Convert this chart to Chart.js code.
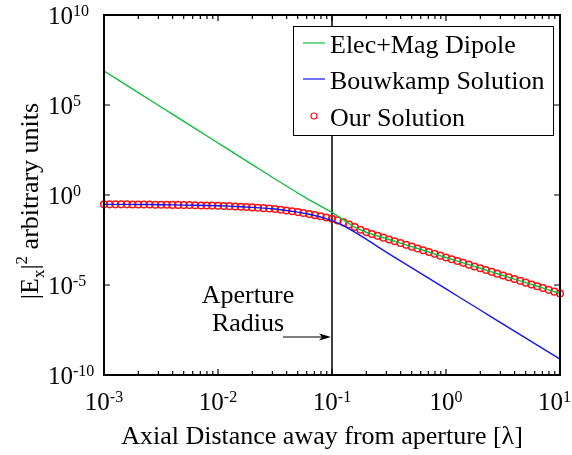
<!DOCTYPE html>
<html>
<head>
<meta charset="utf-8">
<script src="https://cdn.jsdelivr.net/npm/chart.js@4/dist/chart.umd.min.js"></script>
<style>
  html, body { margin: 0; padding: 0; background: #fff; }
  #wrap { width: 572px; height: 455px; }
</style>
</head>
<body>
<div id="wrap"><canvas id="c" width="572" height="455"></canvas></div>
<script>
// Axial distance samples (log10 of distance in wavelengths) for the two analytic curves
const lineDistanceExp = [
  -3.0, -2.9, -2.8, -2.7, -2.6, -2.5, -2.4, -2.3, -2.2, -2.1,
  -2.0, -1.9, -1.8, -1.7, -1.6, -1.5, -1.4, -1.3, -1.2, -1.1,
  -1.0, -0.9, -0.8, -0.7, -0.6, -0.5, -0.4, -0.3, -0.2, -0.1,
   0.0,  0.1,  0.2,  0.3,  0.4,  0.5,  0.6,  0.7,  0.8,  0.9, 1.0
];

// log10 |Ex|^2 for the electric + magnetic dipole model
const dipoleLog = [
   6.89,  6.49,  6.09,  5.69,  5.29,  4.89,  4.49,  4.09,  3.69,  3.29,
   2.89,  2.49,  2.09,  1.69,  1.29,  0.89,  0.50,  0.11, -0.27, -0.62,
  -0.96, -1.38, -1.80, -2.07, -2.27, -2.47, -2.67, -2.87, -3.07, -3.27,
  -3.47, -3.67, -3.87, -4.07, -4.27, -4.47, -4.67, -4.87, -5.07, -5.27, -5.47
];

// log10 |Ex|^2 for the Bouwkamp solution
const bouwkampLog = [
  -0.52, -0.52, -0.52, -0.53, -0.53, -0.54, -0.55, -0.56, -0.57, -0.58,
  -0.60, -0.62, -0.65, -0.69, -0.73, -0.78, -0.86, -0.95, -1.07, -1.22,
  -1.42, -1.70, -2.06, -2.45, -2.87, -3.27, -3.66, -4.05, -4.44, -4.83,
  -5.22, -5.61, -6.00, -6.39, -6.78, -7.17, -7.56, -7.95, -8.34, -8.73, -9.12
];

// Axial distance samples (log10) for our computed solution
const ourDistanceExp = [
  -3.00, -2.95, -2.90, -2.85, -2.80, -2.75, -2.70, -2.65, -2.60, -2.55,
  -2.50, -2.45, -2.40, -2.35, -2.30, -2.25, -2.20, -2.15, -2.10, -2.05,
  -2.00, -1.95, -1.90, -1.85, -1.80, -1.75, -1.70, -1.65, -1.60, -1.55,
  -1.50, -1.45, -1.40, -1.35, -1.30, -1.25, -1.20, -1.15, -1.10, -1.05,
  -1.00, -0.95, -0.90, -0.85, -0.80, -0.75, -0.70, -0.65, -0.60, -0.55,
  -0.50, -0.45, -0.40, -0.35, -0.30, -0.25, -0.20, -0.15, -0.10, -0.05,
   0.00,  0.05,  0.10,  0.15,  0.20,  0.25,  0.30,  0.35,  0.40,  0.45,
   0.50,  0.55,  0.60,  0.65,  0.70,  0.75,  0.80,  0.85,  0.90,  0.95, 1.00
];

// log10 |Ex|^2 for our solution
const ourSolutionLog = [
  -0.52, -0.52, -0.52, -0.52, -0.52, -0.53, -0.53, -0.53, -0.53, -0.54,
  -0.54, -0.54, -0.55, -0.55, -0.56, -0.56, -0.57, -0.58, -0.58, -0.59,
  -0.60, -0.61, -0.62, -0.64, -0.65, -0.67, -0.69, -0.71, -0.73, -0.75,
  -0.78, -0.82, -0.86, -0.90, -0.95, -1.00, -1.06, -1.12, -1.18, -1.25,
  -1.32, -1.41, -1.52, -1.64, -1.78, -1.93, -2.06, -2.17, -2.27, -2.37,
  -2.47, -2.57, -2.67, -2.77, -2.87, -2.97, -3.07, -3.17, -3.27, -3.37,
  -3.47, -3.57, -3.67, -3.77, -3.87, -3.97, -4.07, -4.17, -4.27, -4.37,
  -4.47, -4.57, -4.67, -4.77, -4.87, -4.97, -5.07, -5.17, -5.27, -5.37, -5.47
];

// Tick labels (powers of ten) on each axis
const xTickExp = [-3, -2, -1, 0, 1];
const yTickExp = [-10, -5, 0, 5, 10];
const xMinorMultipliers = [2, 3, 4, 5, 6, 7, 8, 9];

const apertureRadius = 0.1;
const seriesNames = ['Elec+Mag Dipole', 'Bouwkamp Solution', 'Our Solution'];
const seriesColors = ['#10bc40', '#1414f0', '#ff1010'];
const xTitle = 'Axial Distance away from aperture [\u03bb]';
const apertureText = ['Aperture', 'Radius'];

const SERIF = '"Liberation Serif", "Times New Roman", serif';

function toPoints(xs, ys) {
  return xs.map((e, i) => ({ x: Math.pow(10, e), y: Math.pow(10, ys[i]) }));
}

// Draws "10" with a raised exponent
function drawPower(ctx, exp, x, baseline, align, maxRight) {
  const base = '10', sup = String(exp);
  ctx.font = '25px ' + SERIF;
  const wb = ctx.measureText(base).width;
  ctx.font = '16px ' + SERIF;
  const ws = ctx.measureText(sup).width;
  let left = x;
  if (align === 'center') left = x - (wb + ws) / 2;
  if (maxRight !== undefined && left + wb + ws > maxRight) left = maxRight - wb - ws;
  ctx.textAlign = 'left';
  ctx.textBaseline = 'alphabetic';
  ctx.fillStyle = '#000';
  ctx.font = '25px ' + SERIF;
  ctx.fillText(base, left, baseline);
  ctx.font = '16px ' + SERIF;
  ctx.fillText(sup, left + wb, baseline - 8);
}

function apertureX(chart) { return chart.scales.x.getPixelForValue(apertureRadius); }

const decorations = {
  id: 'decorations',
  beforeDatasetsDraw(chart) {
    const { ctx, chartArea: a } = chart;
    // vertical marker at the aperture radius
    const xp = apertureX(chart);
    ctx.save();
    ctx.strokeStyle = '#000';
    ctx.lineWidth = 1.5;
    ctx.beginPath();
    ctx.moveTo(xp, a.top);
    ctx.lineTo(xp, a.bottom);
    ctx.stroke();
    ctx.restore();
  },
  afterDatasetsDraw(chart) {
    const { ctx, chartArea: a, scales } = chart;
    const sx = scales.x, sy = scales.y;
    ctx.save();
    // frame
    ctx.strokeStyle = '#000';
    ctx.lineWidth = 2;
    ctx.strokeRect(a.left, a.top, a.right - a.left, a.bottom - a.top);

    // inward tick marks
    ctx.lineWidth = 1.2;
    ctx.beginPath();
    xTickExp.forEach(e => {
      const px = sx.getPixelForValue(Math.pow(10, e));
      ctx.moveTo(px, a.bottom); ctx.lineTo(px, a.bottom - 6);
      ctx.moveTo(px, a.top); ctx.lineTo(px, a.top + 6);
      if (e < xTickExp[xTickExp.length - 1]) {
        xMinorMultipliers.forEach(m => {
          const q = sx.getPixelForValue(m * Math.pow(10, e));
          ctx.moveTo(q, a.bottom); ctx.lineTo(q, a.bottom - 4);
          ctx.moveTo(q, a.top); ctx.lineTo(q, a.top + 4);
        });
      }
    });
    yTickExp.forEach(e => {
      const py = sy.getPixelForValue(Math.pow(10, e));
      ctx.moveTo(a.left, py); ctx.lineTo(a.left + 6, py);
      ctx.moveTo(a.right, py); ctx.lineTo(a.right - 6, py);
    });
    ctx.stroke();

    // tick labels
    xTickExp.forEach(e => {
      const px = sx.getPixelForValue(Math.pow(10, e));
      drawPower(ctx, e, px, a.bottom + 35, 'center', chart.width - 1);
    });
    yTickExp.forEach(e => {
      const py = sy.getPixelForValue(Math.pow(10, e));
      drawPower(ctx, e, 48, py + 9, 'left');
    });

    // legend box
    const lx = 293.5, ly = 26.5, lw = 260, lh = 109;
    ctx.fillStyle = '#fff';
    ctx.fillRect(lx, ly, lw, lh);
    ctx.strokeStyle = '#000';
    ctx.lineWidth = 1;
    ctx.strokeRect(lx, ly, lw, lh);
    const rows = [43, 79, 116];
    const ds = chart.data.datasets;
    rows.forEach((ry, i) => {
      const d = ds[i];
      if (i < 2) {
        ctx.strokeStyle = d.borderColor;
        ctx.lineWidth = 1.2;
        ctx.beginPath();
        ctx.moveTo(303, ry); ctx.lineTo(325, ry);
        ctx.stroke();
      } else {
        ctx.strokeStyle = d.pointBorderColor;
        ctx.lineWidth = 1.2;
        ctx.beginPath();
        ctx.arc(314, ry, 3, 0, Math.PI * 2);
        ctx.stroke();
      }
      ctx.fillStyle = '#000';
      ctx.font = '26px ' + SERIF;
      ctx.textAlign = 'left';
      ctx.textBaseline = 'alphabetic';
      ctx.fillText(d.label, 330, ry + 10);
    });

    // aperture annotation
    ctx.font = '26px ' + SERIF;
    ctx.textAlign = 'center';
    ctx.fillText(apertureText[0], 248, 303);
    ctx.fillText(apertureText[1], 248, 331);
    const ay = 337;
    const tip = apertureX(chart) - 1;
    ctx.strokeStyle = '#000';
    ctx.lineWidth = 1.2;
    ctx.beginPath();
    ctx.moveTo(283, ay); ctx.lineTo(tip - 4, ay);
    ctx.stroke();
    ctx.fillStyle = '#000';
    ctx.beginPath();
    ctx.moveTo(tip, ay);
    ctx.lineTo(tip - 12, ay - 3.5);
    ctx.lineTo(tip - 9, ay);
    ctx.lineTo(tip - 12, ay + 3.5);
    ctx.closePath();
    ctx.fill();

    // x axis title
    ctx.font = '26px ' + SERIF;
    ctx.textAlign = 'center';
    ctx.fillText(xTitle, 322, 444);

    // y axis title: |E_x|^2 arbitrary units, rotated
    ctx.translate(38, 201);
    ctx.rotate(-Math.PI / 2);
    const parts = [
      { t: '|E', f: 26, dy: 0 },
      { t: 'x', f: 17, dy: 6 },
      { t: '|', f: 26, dy: 0 },
      { t: '2', f: 17, dy: -11 },
      { t: ' arbitrary units', f: 26, dy: 0 }
    ];
    let total = 0;
    parts.forEach(p => { ctx.font = p.f + 'px ' + SERIF; p.w = ctx.measureText(p.t).width; total += p.w; });
    let cx = -total / 2;
    ctx.textAlign = 'left';
    parts.forEach(p => {
      ctx.font = p.f + 'px ' + SERIF;
      ctx.fillText(p.t, cx, p.dy);
      cx += p.w;
    });
    ctx.restore();
  }
};

new Chart(document.getElementById('c'), {
  type: 'line',
  data: {
    datasets: [
      {
        label: seriesNames[0],
        data: toPoints(lineDistanceExp, dipoleLog),
        borderColor: seriesColors[0],
        borderWidth: 1.4,
        pointRadius: 0,
        tension: 0,
        fill: false
      },
      {
        label: seriesNames[1],
        data: toPoints(lineDistanceExp, bouwkampLog),
        borderColor: seriesColors[1],
        borderWidth: 1.4,
        pointRadius: 0,
        tension: 0,
        fill: false
      },
      {
        label: seriesNames[2],
        data: toPoints(ourDistanceExp, ourSolutionLog),
        showLine: false,
        pointStyle: 'circle',
        pointRadius: 3.3,
        pointBorderWidth: 1.5,
        pointBorderColor: seriesColors[2],
        pointBackgroundColor: 'rgba(0,0,0,0)',
        borderColor: seriesColors[2],
        clip: false
      }
    ]
  },
  options: {
    responsive: false,
    animation: false,
    devicePixelRatio: 1,
    layout: { padding: { left: 104, top: 15, right: 12, bottom: 80 } },
    plugins: { legend: { display: false }, tooltip: { enabled: false } },
    scales: {
      x: { type: 'logarithmic', min: 1e-3, max: 10, display: false },
      y: { type: 'logarithmic', min: 1e-10, max: 1e10, display: false }
    }
  },
  plugins: [decorations]
});
</script>
</body>
</html>
